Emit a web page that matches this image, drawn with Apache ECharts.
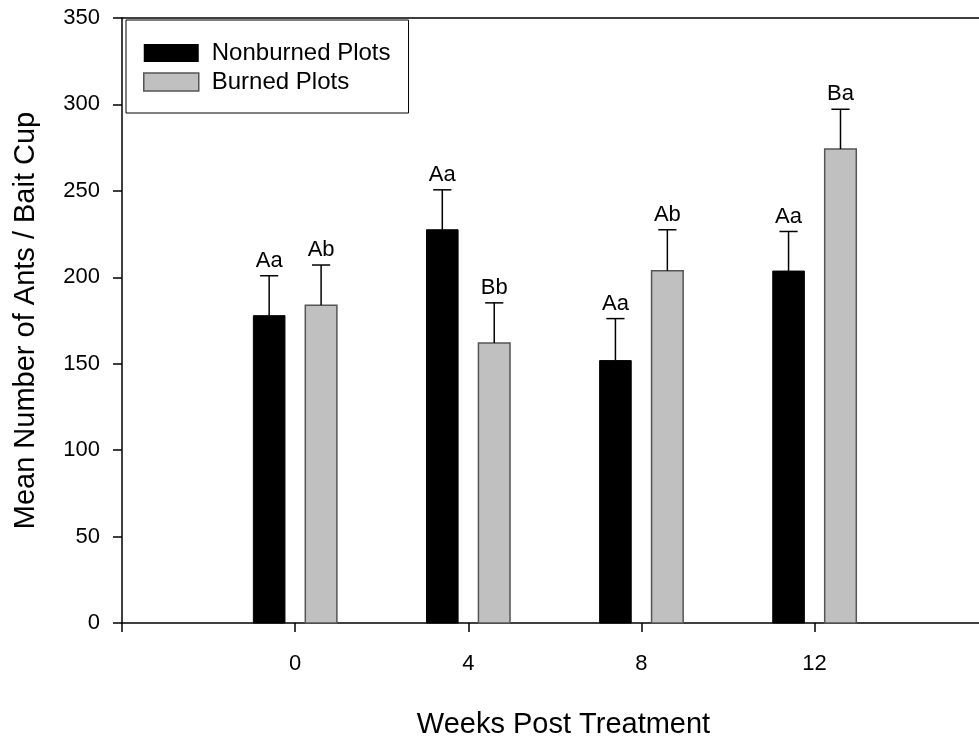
<!DOCTYPE html>
<html>
<head>
<meta charset="utf-8">
<script src="https://cdn.jsdelivr.net/npm/echarts@6/dist/echarts.min.js"></script>
<style>html,body{margin:0;padding:0;background:#fff}#chart{width:979px;height:738px}</style>
</head>
<body>
<div id="chart"></div>
<script>
// ---- data ----
var weeks = [0, 4, 8, 12];
var xTickValues = [-4, 0, 4, 8, 12];
var xLabelValues = [0, 4, 8, 12];
var yTicks = [0, 50, 100, 150, 200, 250, 300, 350];
var nonburnedMean = [177.8, 227.5, 151.8, 203.6];
var nonburnedSE = [23.1, 23.1, 24.3, 22.9];
var nonburnedLetters = ['Aa', 'Aa', 'Aa', 'Aa'];
var burnedMean = [183.8, 162.0, 203.8, 274.2];
var burnedSE = [23.3, 23.2, 23.7, 23.0];
var burnedLetters = ['Ab', 'Bb', 'Ab', 'Ba'];

var FONT = 'Arial, "Liberation Sans", Helvetica, sans-serif';
var BAR_OFFSET = 0.6;   // axis units from week center
var BAR_W = 0.73;       // axis units
var CAP_W = 0.42;       // axis units

function makeRender(offset, fill, stroke, strokeW, letters) {
  return function (params, api) {
    var wk = api.value(0), mean = api.value(1), se = api.value(2);
    var xc = wk + offset;
    var base = api.coord([xc, 0]);
    var top = api.coord([xc, mean]);
    var eTop = api.coord([xc, mean + se]);
    var w = api.size([BAR_W, 0])[0];
    var cw = api.size([CAP_W, 0])[0];
    return {
      type: 'group',
      children: [
        { type: 'rect', shape: { x: base[0] - w / 2, y: top[1], width: w, height: base[1] - top[1] },
          style: { fill: fill, stroke: stroke, lineWidth: strokeW } },
        { type: 'line', shape: { x1: top[0], y1: top[1], x2: eTop[0], y2: eTop[1] },
          style: { stroke: '#000', lineWidth: 1.5 } },
        { type: 'line', shape: { x1: eTop[0] - cw / 2, y1: eTop[1], x2: eTop[0] + cw / 2, y2: eTop[1] },
          style: { stroke: '#000', lineWidth: 1.5 } },
        { type: 'text', x: eTop[0], y: eTop[1] - 4,
          style: { text: letters[params.dataIndex], fill: '#000', font: '22px ' + FONT,
                   textAlign: 'center', textVerticalAlign: 'bottom' } }
      ]
    };
  };
}

var chart = echarts.init(document.getElementById('chart'), null, { renderer: 'canvas' });
var option = {
  animation: false,
  backgroundColor: '#fff',
  textStyle: { fontFamily: FONT },
  grid: { left: 122, right: 0, top: 18, bottom: 115, outerBoundsMode: 'none', containLabel: false },
  legend: {
    orient: 'vertical',
    left: 126, top: 20,
    padding: [21, 18, 19, 17],
    borderColor: '#000', borderWidth: 1,
    itemWidth: 55, itemHeight: 18, itemGap: 5,
    textStyle: { fontSize: 24, color: '#000', fontFamily: FONT, lineHeight: 24, padding: [0, 0, 0, 8] },
    data: [
      { name: 'Nonburned Plots', icon: 'rect', itemStyle: { color: '#000', borderWidth: 0 } },
      { name: 'Burned Plots', icon: 'rect', itemStyle: { color: '#c0c0c0', borderColor: '#555', borderWidth: 1.5 } }
    ]
  },
  xAxis: [{
    type: 'value', min: -4, max: 15.8,
    position: 'bottom',
    splitLine: { show: false },
    axisLine: { show: true, onZero: false, lineStyle: { color: '#000', width: 1.5 } },
    axisTick: { show: true, length: 9, customValues: xTickValues, lineStyle: { color: '#000', width: 1.5 } },
    axisLabel: { customValues: xLabelValues, color: '#000', fontSize: 22, margin: 30, fontFamily: FONT },
    name: 'Weeks Post Treatment', nameLocation: 'middle', nameGap: 87,
    nameTextStyle: { fontSize: 29, color: '#000', fontFamily: FONT, padding: [0, 0, 0, 26] }
  }, {
    type: 'value', min: -4, max: 15.8,
    position: 'top',
    splitLine: { show: false },
    axisLine: { show: true, onZero: false, lineStyle: { color: '#000', width: 1.5 } },
    axisTick: { show: false }, axisLabel: { show: false }
  }],
  yAxis: {
    type: 'value', min: 0, max: 350, interval: 50,
    splitLine: { show: false },
    axisLine: { show: true, onZero: false, lineStyle: { color: '#000', width: 1.5 } },
    axisTick: { show: true, length: 9, customValues: yTicks, lineStyle: { color: '#000', width: 1.5 } },
    axisLabel: { customValues: yTicks, color: '#000', fontSize: 22, margin: 22, fontFamily: FONT },
    name: 'Mean Number of Ants / Bait Cup', nameLocation: 'middle', nameGap: 82,
    nameTextStyle: { fontSize: 29, color: '#000', fontFamily: FONT }
  },
  series: [{
    name: 'Nonburned Plots', type: 'custom', clip: false,
    itemStyle: { color: '#000' },
    encode: { x: 0, y: 1 },
    data: weeks.map(function (w, i) { return [w, nonburnedMean[i], nonburnedSE[i]]; }),
    renderItem: makeRender(-BAR_OFFSET, '#000', '#000', 1, nonburnedLetters)
  }, {
    name: 'Burned Plots', type: 'custom', clip: false,
    itemStyle: { color: '#c0c0c0' },
    encode: { x: 0, y: 1 },
    data: weeks.map(function (w, i) { return [w, burnedMean[i], burnedSE[i]]; }),
    renderItem: makeRender(BAR_OFFSET, '#c0c0c0', '#555', 1.5, burnedLetters)
  }]
};
chart.setOption(option);
</script>
</body>
</html>
